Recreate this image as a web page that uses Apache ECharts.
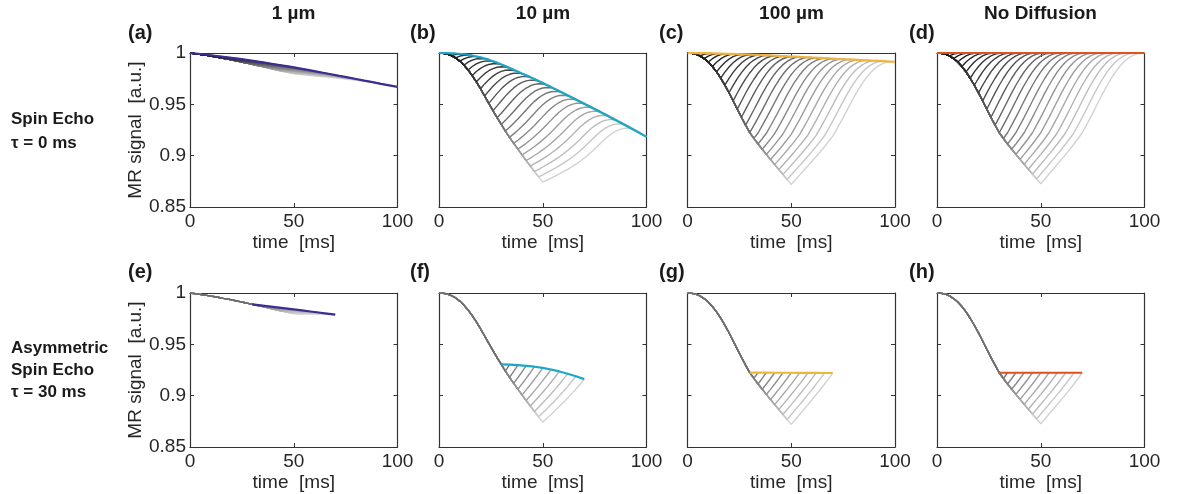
<!DOCTYPE html>
<html><head><meta charset="utf-8">
<script src="https://cdn.jsdelivr.net/npm/echarts@6/dist/echarts.min.js"></script>
<style>html,body{margin:0;padding:0;background:#fff}#c{width:1186px;height:494px}</style>
</head><body><div id="c"></div>
<script>
// time grid [ms]
const timeAxis = [0,2,4,6,8,10,12,14,16,18,20,22,24,26,28,30,32,34,36,38,40,42,44,46,48,50,
  52,54,56,58,60,62,64,66,68,70,72,74,76,78,80,82,84,86,88,90,92,94,96,98,100];
// free induction decay (t = 0..50 ms, step 2)
const fid1um    = [1.0000,.9995,.9989,.9983,.9977,.9970,.9963,.9956,.9948,.9941,.9933,.9925,.9916,.9908,.9899,.9890,.9881,.9872,.9862,.9853,.9844,.9834,.9825,.9816,.9806,.9797];
const fid10um   = [1.0000,.9998,.9990,.9975,.9952,.9921,.9882,.9835,.9780,.9719,.9652,.9581,.9509,.9438,.9370,.9304,.9240,.9179,.9120,.9063,.9007,.8953,.8899,.8846,.8794,.8742];
const fid100um  = [1.0000,.9998,.9989,.9972,.9946,.9912,.9868,.9816,.9755,.9687,.9613,.9533,.9453,.9374,.9298,.9224,.9168,.9114,.9062,.9012,.8962,.8913,.8865,.8817,.8768,.8720];
const fidNoDiff = [1.0000,.9998,.9989,.9972,.9946,.9912,.9868,.9816,.9754,.9686,.9612,.9532,.9452,.9373,.9297,.9223,.9167,.9114,.9063,.9013,.8964,.8916,.8868,.8821,.8773,.8726];
// spin echo amplitude at echo time TE
const echoTE     = [0,4,8,12,16,20,24,28,32,36,40,44,48,52,56,60,64,68,72,76,80,84,88,92,96,100];
const echo1um    = [1.0000,.9992,.9983,.9973,.9963,.9953,.9942,.9931,.9919,.9906,.9893,.9880,.9867,.9853,.9838,.9823,.9808,.9793,.9777,.9762,.9747,.9731,.9716,.9700,.9685,.9670];
const echo10um   = [1.0000,.9999,.9995,.9988,.9976,.9958,.9935,.9906,.9873,.9836,.9800,.9765,.9727,.9688,.9648,.9607,.9566,.9525,.9484,.9442,.9400,.9358,.9315,.9272,.9228,.9183];
const echo100um  = [1.0000,.9999,.9998,.9996,.9994,.9992,.9989,.9986,.9983,.9980,.9976,.9972,.9968,.9964,.9960,.9956,.9952,.9948,.9943,.9939,.9935,.9931,.9927,.9923,.9919,.9915];
const echoNoDiff = [1,1,1,1,1,1,1,1,1,1,1,1,1,1,1,1,1,1,1,1,1,1,1,1,1,1];
// asymmetric spin echo amplitude (tau = 30 ms)
const aseTime    = [30,34,38,42,46,50,54,58,62,66,70];
const ase1um     = [.9890,.9880,.9870,.9860,.9850,.9840,.9830,.9820,.9810,.9800,.9790];
const ase10um    = [.9304,.9302,.9298,.9291,.9282,.9270,.9255,.9236,.9214,.9189,.9161];
const ase100um   = [.9224,.9224,.9224,.9223,.9223,.9223,.9222,.9222,.9222,.9221,.9221];
const aseNoDiff  = [.9223,.9223,.9223,.9223,.9223,.9223,.9223,.9223,.9223,.9223,.9223];

const columnTitles = ['1 µm','10 µm','100 µm','No Diffusion'];
const panelLetters = ['(a)','(b)','(c)','(d)','(e)','(f)','(g)','(h)'];
const rowLabels = [['Spin Echo','τ = 0 ms'],['Asymmetric','Spin Echo','τ = 30 ms']];
const xTicks = [0,50,100];
const yTicks = [0.85,0.9,0.95,1];
const envelopeColors = ['#3b2e92','#1ba8c6','#f2b33d','#e0521d'];

const fids = [fid1um, fid10um, fid100um, fidNoDiff];
const echoes = [echo1um, echo10um, echo100um, echoNoDiff];
const ases = [ase1um, ase10um, ase100um, aseNoDiff];

const colLeft = [190, 439, 687.5, 937];
const rowTop = [53, 293];
const W = 207.5, H = 154;
const FONT = 'Liberation Sans, Arial, Helvetica, sans-serif';
const AX = '#333';

function gray(k){ const g = Math.round(20 + 190*Math.pow((k-1)/24,1.4)); return 'rgb('+g+','+g+','+g+')'; }

const grids=[], xAxes=[], yAxes=[], series=[], graphics=[];
for (let r=0;r<2;r++) for (let c=0;c<4;c++){
  const g = r*4+c;
  grids.push({left:colLeft[c], top:rowTop[r], width:W, height:H});
  const xb = {type:'value', gridIndex:g, min:xTicks[0], max:xTicks[2], interval:50, position:'bottom',
    axisLine:{show:true,onZero:false,lineStyle:{color:AX,width:1.2}},
    axisTick:{show:true,inside:true,length:4,lineStyle:{color:AX}},
    axisLabel:{show:true,fontSize:19,color:'#262626',fontFamily:FONT,margin:5},
    splitLine:{show:false},
    name:'time  [ms]', nameLocation:'middle', nameGap:26,
    nameTextStyle:{fontSize:19,color:'#262626',fontFamily:FONT}};
  const xt = {type:'value', gridIndex:g, min:0, max:100, interval:50, position:'top',
    axisLine:{show:true,onZero:false,lineStyle:{color:AX,width:1.2}},
    axisTick:{show:true,inside:true,length:4,lineStyle:{color:AX}},
    axisLabel:{show:false}, splitLine:{show:false}};
  xAxes.push(xb, xt);
  const yl = {type:'value', gridIndex:g, min:yTicks[0], max:yTicks[3], interval:0.05, position:'left',
    axisLine:{show:true,onZero:false,lineStyle:{color:AX,width:1.2}},
    axisTick:{show:true,inside:true,length:4,lineStyle:{color:AX}},
    axisLabel:{show:c===0,fontSize:19,color:'#262626',fontFamily:FONT,margin:4,
      formatter:v=>String(+v.toFixed(2))},
    splitLine:{show:false}};
  if (c===0){ Object.assign(yl,{name:'MR signal  [a.u.]', nameLocation:'middle', nameGap:45,
    nameTextStyle:{fontSize:19,color:'#262626',fontFamily:FONT}}); }
  const yr = {type:'value', gridIndex:g, min:0.85, max:1, interval:0.05, position:'right',
    axisLine:{show:true,onZero:false,lineStyle:{color:AX,width:1.2}},
    axisTick:{show:true,inside:true,length:4,lineStyle:{color:AX}},
    axisLabel:{show:false}, splitLine:{show:false}};
  yAxes.push(yl, yr);

  const F = fids[c];
  const base = {type:'line', xAxisIndex:2*g, yAxisIndex:2*g, symbol:'none', showSymbol:false,
    silent:true, animation:false};
  if (r===0){
    const E = echoes[c];
    for (let k=25;k>=1;k--){
      const d=[];
      for (let j=0;j<=k;j++) d.push([timeAxis[j], F[j]]);
      for (let m=1;m<=k;m++) d.push([timeAxis[k+m], F[k-m] + (E[k]-1)*m/k]);
      series.push(Object.assign({}, base, {data:d, lineStyle:{color:gray(k),width:1.4}, z:2}));
    }
    series.push(Object.assign({}, base, {data:echoTE.map((t,j)=>[t,E[j]]), clip:false,
      lineStyle:{color:envelopeColors[c],width:2.2}, z:3}));
  } else {
    const A = ases[c];
    for (let k=25;k>=15;k--){
      const d=[];
      for (let j=0;j<=k;j++) d.push([timeAxis[j], F[j]]);
      const n = k-15;
      for (let m=1;m<=n;m++) d.push([timeAxis[k+m], F[k-m] + (A[n]-F[15])*m/n]);
      series.push(Object.assign({}, base, {data:d, lineStyle:{color:gray(k),width:1.4}, z:2}));
    }
    series.push(Object.assign({}, base, {data:aseTime.map((t,j)=>[t,A[j]]), clip:false,
      lineStyle:{color:envelopeColors[c],width:2.2}, z:3}));
  }
}

const titleX = [293.5, 543, 791.5, 1040.5];
columnTitles.forEach((t,i)=>graphics.push({type:'text', x:titleX[i], y:14,
  style:{text:t, font:'bold 19px '+FONT, fill:'#1a1a1a', align:'center', verticalAlign:'middle'}}));
const letterX = [128, 410, 659, 909];
panelLetters.forEach((t,i)=>graphics.push({type:'text', x:letterX[i%4], y: i<4?33:272,
  style:{text:t, font:'bold 20px '+FONT, fill:'#1a1a1a', align:'left', verticalAlign:'middle'}}));
const rowY = [[119,143],[348,370,392]];
rowLabels.forEach((lines,r)=>lines.forEach((t,j)=>graphics.push({type:'text', x:11, y:rowY[r][j],
  style:{text:t, font:'bold 17px '+FONT, fill:'#1a1a1a', align:'left', verticalAlign:'middle'}})));

const chart = echarts.init(document.getElementById('c'), null, {renderer:'canvas'});
chart.setOption({animation:false, backgroundColor:'#fff', grid:grids, xAxis:xAxes, yAxis:yAxes,
  series:series, graphic:graphics});
</script></body></html>
